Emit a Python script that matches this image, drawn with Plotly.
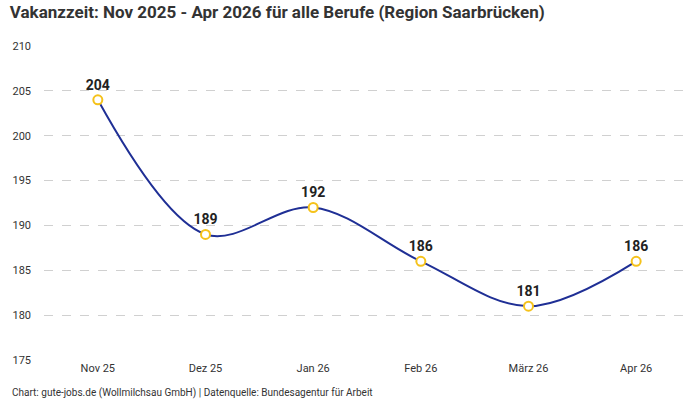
import plotly.graph_objects as go

months = ["Nov 25", "Dez 25", "Jan 26", "Feb 26", "März 26", "Apr 26"]
values = [204, 189, 192, 186, 181, 186]
y_ticks = [175, 180, 185, 190, 195, 200, 205, 210]

FONT = "Roboto, 'Open Sans', sans-serif"

fig = go.Figure()
fig.add_trace(go.Scatter(
    x=months, y=values, mode="lines+markers+text",
    line=dict(color="#1f2f95", width=2, shape="spline", smoothing=1),
    marker=dict(size=9, color="white", line=dict(color="#f5c21b", width=2)),
    text=[str(v) for v in values], textposition="top center",
    textfont=dict(family=FONT, size=14, color="#222222", weight="bold"),
    cliponaxis=False, hoverinfo="skip",
))

fig.update_layout(
    width=700, height=400,
    margin=dict(l=44, r=10, t=46, b=40),
    paper_bgcolor="white", plot_bgcolor="white",
    showlegend=False,
    font=dict(family=FONT, size=11, color="#333333"),
    title=dict(text="<b>Vakanzzeit: Nov 2025 - Apr 2026 für alle Berufe (Region Saarbrücken)</b>",
               x=0.014, xanchor="left", y=0.985, yanchor="top",
               font=dict(family=FONT, size=17, color="#333333")),
    xaxis=dict(type="category", range=[-0.5, 5.5], showgrid=False, showline=False,
               ticks="", tickfont=dict(size=11, color="#333333")),
    yaxis=dict(range=[175, 210], tickvals=y_ticks, showgrid=True,
               gridcolor="#d0d0d0", griddash="dash", gridwidth=1,
               zeroline=False, showline=False, ticks="", ticklabelstandoff=12,
               tickfont=dict(size=11, color="#333333")),
    annotations=[dict(text="Chart: gute-jobs.de (Wollmilchsau GmbH) | Datenquelle: Bundesagentur für Arbeit",
                      xref="paper", yref="paper", x=-0.053, y=-0.105,
                      xanchor="left", yanchor="middle", showarrow=False,
                      font=dict(family=FONT, size=10, color="#333333"))],
)

fig.write_html("out.html")
